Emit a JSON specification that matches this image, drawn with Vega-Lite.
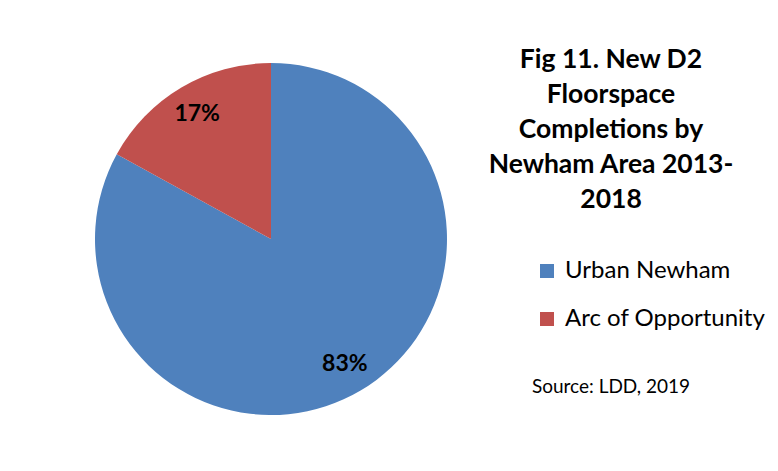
{
  "$schema": "https://vega.github.io/schema/vega-lite/v6.json",
  "autosize": "none",
  "width": 352,
  "height": 352,
  "padding": {"left": 95, "top": 63, "right": 331, "bottom": 56},
  "background": "white",
  "config": {"view": {"stroke": null}, "font": "Lato"},
  "title": {
    "text": ["Fig 11. New D2", "Floorspace", "Completions by", "Newham Area 2013-", "2018"],
    "subtitle": "Source: LDD, 2019",
    "anchor": "middle",
    "frame": "group",
    "orient": "top",
    "dx": 340,
    "dy": 338,
    "font": "Lato",
    "fontSize": 26.5,
    "fontWeight": "bold",
    "lineHeight": 35,
    "color": "black",
    "subtitleFont": "Lato",
    "subtitleFontSize": 19,
    "subtitleColor": "black",
    "subtitlePadding": 165
  },
  "data": {
    "values": [
      {"area": "Urban Newham", "share": 0.83},
      {"area": "Arc of Opportunity", "share": 0.17}
    ]
  },
  "encoding": {
    "theta": {"field": "share", "type": "quantitative", "stack": true},
    "order": {"field": "share", "type": "quantitative", "sort": "descending"}
  },
  "layer": [
    {
      "mark": {"type": "arc", "outerRadius": 176},
      "encoding": {
        "color": {
          "field": "area",
          "type": "nominal",
          "scale": {"domain": ["Urban Newham", "Arc of Opportunity"], "range": ["#4F81BD", "#C0504D"]},
          "legend": {
            "title": null,
            "orient": "none",
            "legendX": 440,
            "legendY": 196,
            "symbolType": "square",
            "symbolSize": 196,
            "symbolStrokeWidth": 0,
            "labelFont": "Lato",
            "labelFontSize": 24,
            "labelColor": "black",
            "labelOffset": 6,
            "rowPadding": 24,
            "padding": 0,
            "labelLimit": 300
          }
        }
      }
    },
    {
      "mark": {"type": "text", "radius": 145, "font": "Lato", "fontSize": 23, "fontWeight": "bold", "color": "black"},
      "encoding": {
        "text": {"field": "share", "type": "quantitative", "format": ".0%"}
      }
    }
  ]
}
